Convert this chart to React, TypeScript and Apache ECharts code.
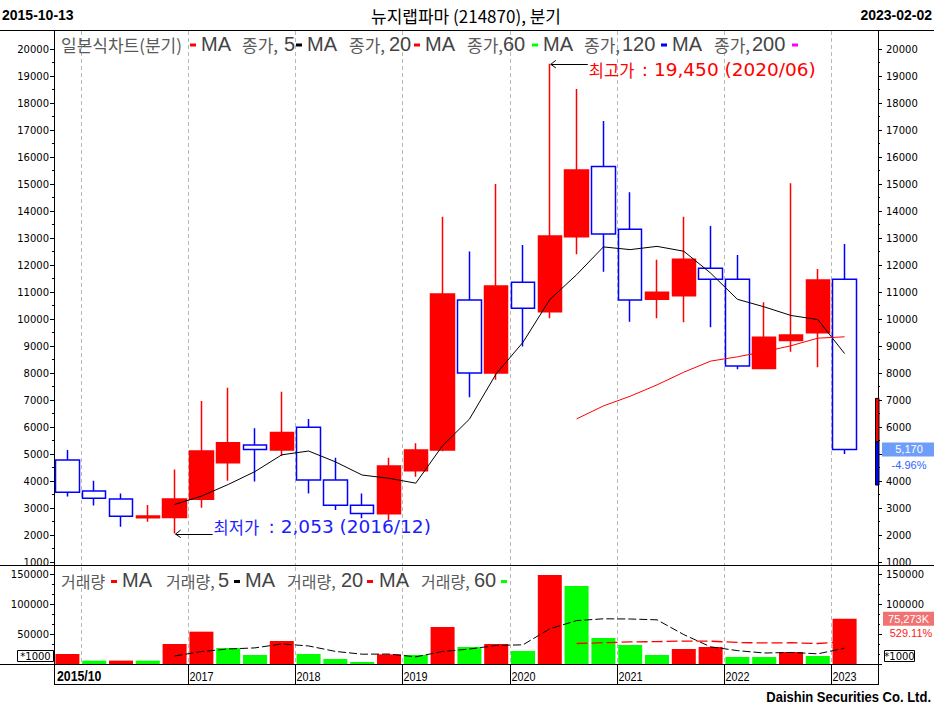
import React, { useEffect, useRef } from "react";
import * as echarts from "echarts";

// ---------- data ----------
const categories = [
  "2015/12", "2016/03", "2016/06", "2016/09", "2016/12",
  "2017/03", "2017/06", "2017/09", "2017/12",
  "2018/03", "2018/06", "2018/09", "2018/12",
  "2019/03", "2019/06", "2019/09", "2019/12",
  "2020/03", "2020/06", "2020/09", "2020/12",
  "2021/03", "2021/06", "2021/09", "2021/12",
  "2022/03", "2022/06", "2022/09", "2022/12",
  "2023/03",
];

const opens = [4780, 3630, 3330, 2640, 2650, 3320, 4680, 5330, 5150, 5990, 4040, 3100, 2790, 4380, 5150, 10700, 8000, 11360, 10270, 13050, 15650, 13320, 10730, 10860, 11880, 11470, 8170, 9200, 9490, 11470];
const closes = [3580, 3360, 2690, 2700, 3330, 5110, 5420, 5170, 5800, 4040, 3100, 2800, 4560, 5150, 10930, 8000, 11220, 10400, 13070, 15520, 13150, 10700, 10990, 12210, 11470, 8260, 9320, 9410, 11440, 5170];
const lows = [3430, 3090, 2310, 2490, 2053, 3010, 4010, 3980, 4930, 3540, 2930, 2620, 2500, 4160, 5100, 7100, 7750, 8980, 10030, 12400, 11750, 9900, 10030, 9880, 9690, 8140, 8150, 8790, 8210, 5000];
const highs = [5150, 4010, 3540, 3110, 4430, 6960, 7450, 5950, 7310, 6300, 4860, 3540, 4860, 5400, 13790, 12500, 15000, 12740, 19450, 18520, 17330, 14690, 12190, 13790, 13440, 12370, 10620, 15030, 11850, 12780];

const priceMa5 = [null, null, null, null, 3130, 3440, 3870, 4350, 4970, 5110, 4710, 4220, 4100, 3920, 5310, 6290, 7970, 9140, 10720, 11640, 12670, 12570, 12690, 12510, 11700, 10730, 10450, 10130, 9980, 8720];
const priceMa20 = [null, null, null, null, null, null, null, null, null, null, null, null, null, null, null, null, null, null, null, 6300, 6780, 7140, 7560, 8030, 8440, 8600, 8790, 9010, 9290, 9340];

const volumes = [16700, 5600, 5650, 5550, 33300, 53900, 26700, 15000, 38300, 16700, 8300, 3300, 16100, 15000, 61700, 28300, 33300, 21700, 148300, 130000, 43300, 31700, 15000, 25000, 28300, 11700, 11600, 20000, 13300, 75273];
const volMa5 = [null, null, null, null, 13330, 20770, 24990, 26860, 33430, 30090, 20990, 16330, 16570, 11890, 20890, 24890, 30890, 31990, 58670, 72330, 75330, 74990, 73650, 48970, 28650, 22310, 18290, 19290, 16970, 26350];
const volMa20 = [null, null, null, null, null, null, null, null, null, null, null, null, null, null, null, null, null, null, null, 34160, 35500, 36800, 37270, 38240, 37990, 35880, 35130, 35380, 34130, 37000];

const yearLabels = ["2017", "2018", "2019", "2020", "2021", "2022", "2023"];
const firstPeriodLabel = "2015/10";
const startDate = "2015-10-13";
const endDate = "2023-02-02";
const titleText = "뉴지랩파마 (214870), 분기";
const lastChangePct = "-4.96%";
const volChangePct = "529.11%";
const rangeTop = 7060;
const rangeMid = 5450;
const rangeBottom = 3850;

// ---------- styling ----------
const NUM_FONT = "'DejaVu Sans', Verdana, sans-serif";
const LAT_FONT = "'Liberation Sans', Arial, sans-serif";
const KO_FONT = "'Noto Sans CJK KR', 'Noto Sans', sans-serif";

const fmt = (n: number) => n.toLocaleString("en-US");

function txt(text: string, x: number, y: number, o: any = {}) {
  const align = o.align || "left";
  return {
    type: "text",
    x,
    y,
    scaleX: o.sx || 1,
    z: o.z ?? 30,
    silent: true,
    style: {
      text,
      fill: o.color || "#000",
      fontSize: o.size || 12,
      fontFamily: o.family || LAT_FONT,
      fontWeight: o.weight || "normal",
      align,
      textAlign: align,
      verticalAlign: "middle",
      textVerticalAlign: "middle",
    },
  };
}
function ln(x1: number, y1: number, x2: number, y2: number, stroke = "#000", dash?: number[], z = 25, w = 1) {
  return {
    type: "line",
    z,
    silent: true,
    shape: { x1, y1, x2, y2 },
    style: { stroke, lineWidth: w, lineDash: dash },
  };
}
function rc(x: number, y: number, width: number, height: number, fill: string, stroke?: string, z = 28) {
  return {
    type: "rect",
    z,
    silent: true,
    shape: { x, y, width, height },
    style: { fill, stroke: stroke || null, lineWidth: stroke ? 1 : 0 },
  };
}

const axisCommon = {
  axisLine: { show: false },
  splitLine: { show: false },
  axisTick: { show: true, length: 4, lineStyle: { color: "#000", width: 1 } },
};

function buildOption() {
  const last = categories.length - 1;
  const candleData = categories.map((_, i) => [opens[i], closes[i], lows[i], highs[i]]);
  const volData = volumes.map((v, i) => ({
    value: v,
    itemStyle: { color: i === 0 || v > volumes[i - 1] ? "#ff0000" : "#00ff00" },
  }));
  const xCommon = {
    type: "category",
    data: categories,
    boundaryGap: true,
    axisLine: { show: false },
    axisTick: { show: false },
    axisLabel: { show: false },
    splitLine: { show: false },
  };
  const labelStyle = { color: "#000", fontSize: 10, fontFamily: NUM_FONT };
  const priceFmt = (v: number) => String(v);
  // right-side labels that sit under the current-price / current-volume boxes are not shown
  const priceFmtRight = (v: number) => (Math.abs(v - closes[last]) < 600 ? "" : String(v));
  const volFmt = (v: number) => (v === 0 ? "" : String(v));
  const volFmtRight = (v: number) =>
    v === 0 || (v < volumes[last] && volumes[last] - v < 30000) ? "" : String(v);
  const minorP = { show: true, splitNumber: 2, length: 2, lineStyle: { color: "#000" } };
  const minorV = { show: true, splitNumber: 3, length: 2, lineStyle: { color: "#000" } };
  return {
    animation: false,
    backgroundColor: "#ffffff",
    grid: [
      { left: 54, right: 76, top: 49, height: 513, outerBoundsMode: "none" },
      { left: 54, right: 76, top: 574, height: 90, outerBoundsMode: "none" },
    ],
    xAxis: [
      { ...xCommon, gridIndex: 0 },
      { ...xCommon, gridIndex: 1 },
    ],
    yAxis: [
      {
        ...axisCommon, gridIndex: 0, position: "left", min: 1000, max: 20000, interval: 1000,
        minorTick: minorP, axisLabel: { ...labelStyle, margin: 5, formatter: priceFmt },
      },
      {
        ...axisCommon, gridIndex: 0, position: "right", offset: 20, min: 1000, max: 20000, interval: 1000,
        minorTick: minorP, axisLabel: { ...labelStyle, margin: 8, formatter: priceFmtRight },
      },
      {
        ...axisCommon, gridIndex: 1, position: "left", min: 0, max: 150000, interval: 50000,
        minorTick: minorV, axisLabel: { ...labelStyle, margin: 5, formatter: volFmt },
      },
      {
        ...axisCommon, gridIndex: 1, position: "right", offset: 20, min: 0, max: 150000, interval: 50000,
        minorTick: minorV, axisLabel: { ...labelStyle, margin: 8, formatter: volFmtRight },
      },
    ],
    series: [
      {
        name: "MA5", type: "line", xAxisIndex: 0, yAxisIndex: 0, data: priceMa5,
        symbol: "none", silent: true, lineStyle: { color: "#000000", width: 1 },
      },
      {
        name: "MA20", type: "line", xAxisIndex: 0, yAxisIndex: 0, data: priceMa20,
        symbol: "none", silent: true, lineStyle: { color: "#ff0000", width: 1 },
      },
      {
        name: "candle", type: "candlestick", xAxisIndex: 0, yAxisIndex: 0, data: candleData,
        barWidth: 24, silent: true,
        itemStyle: {
          color: "#ff0000", color0: "rgba(255,255,255,0)",
          borderColor: "#ff0000", borderColor0: "#0000ff", borderWidth: 1.5,
        },
      },
      {
        name: "volume", type: "bar", xAxisIndex: 1, yAxisIndex: 2, data: volData,
        barWidth: 24, silent: true,
      },
      {
        name: "volMA5", type: "line", xAxisIndex: 1, yAxisIndex: 2, data: volMa5,
        symbol: "none", silent: true, lineStyle: { color: "#000000", width: 1, type: [8, 3] },
      },
      {
        name: "volMA20", type: "line", xAxisIndex: 1, yAxisIndex: 2, data: volMa20,
        symbol: "none", silent: true, lineStyle: { color: "#ff0000", width: 1.3, type: [11, 4] },
      },
    ],
  };
}

function buildGraphics(chart: any) {
  const pp = (i: number, v: number) => chart.convertToPixel({ xAxisIndex: 0, yAxisIndex: 0 }, [i, v]) as number[];
  const pv = (i: number, v: number) => chart.convertToPixel({ xAxisIndex: 1, yAxisIndex: 2 }, [i, v]) as number[];
  const g: any[] = [];

  // frame
  g.push(ln(0, 30.5, 934, 30.5));
  g.push(ln(0, 565.5, 934, 565.5));
  g.push(ln(0, 664.5, 878.5, 664.5));
  g.push(ln(54.5, 684.5, 878.5, 684.5));
  g.push(ln(54.5, 31, 54.5, 685));
  g.push(ln(878.5, 31, 878.5, 685));

  // year boundaries
  const boundary = (i: number) => Math.round((pp(i - 1, 1000)[0] + pp(i, 1000)[0]) / 2) + 0.5;
  categories.forEach((c, i) => {
    if (i > 0 && c.endsWith("/03")) {
      const xb = boundary(i);
      g.push(ln(xb, 31, xb, 565, "#b8b8b8", [4, 3], 0));
      g.push(ln(xb, 567, xb, 664, "#b8b8b8", [4, 3], 0));
    }
  });
  // x labels row
  g.push(txt(firstPeriodLabel, 57, 676.5, { size: 15, weight: "bold", sx: 0.82 }));
  yearLabels.forEach((y) => {
    const idx = categories.indexOf(y + "/03");
    if (idx > 0) {
      const xb = boundary(idx);
      g.push(ln(xb, 665, xb, 684));
      g.push(txt(y, xb + 1, 676.5, { size: 13.5, sx: 0.8 }));
    }
  });

  // header & footer
  g.push(txt(startDate, 2, 15, { size: 14, weight: "bold" }));
  g.push(txt(endDate, 932, 15, { size: 14, weight: "bold", align: "right" }));
  g.push(txt(titleText, 466, 15, { size: 17, family: KO_FONT, align: "center" }));
  g.push(txt("Daishin Securities Co. Ltd.", 931, 697, { size: 14, weight: "bold", align: "right", sx: 0.93 }));

  // price legend
  const KO = { size: 17, family: KO_FONT, color: "#5a5a5a" };
  const KOV = { size: 16, family: KO_FONT, color: "#5a5a5a" };
  const EN = { size: 20, family: LAT_FONT, color: "#444444" };
  const dash = (x: number, y: number, c: string) => rc(x, y - 1.5, 6, 3, c, undefined, 30);
  const ly = 44;
  g.push(txt("일본식차트(분기)", 61, ly, KO));
  const mainItems: [number, number, string, number, string, string][] = [
    [190, 201, "종가,", 242, "5", "#000000"],
    [296, 307, "종가,", 349, "20", "#ff0000"],
    [414, 425, "종가,", 467, "60", "#00ff00"],
    [532, 543, "종가,", 584, "120", "#0000ff"],
    [661, 672, "종가,", 714, "200", "#ff00ff"],
  ];
  const mainDigitX = [284, 389, 503, 622, 752];
  mainItems.forEach((m, k) => {
    const prevColor = k === 0 ? "#ff0000" : mainItems[k - 1][5];
    g.push(dash(m[0], ly + 1, prevColor));
    g.push(txt("MA", m[1], ly - 0.5, EN));
    g.push(txt(m[2], m[3], ly, KO));
    g.push(txt(m[4], mainDigitX[k], ly - 0.5, EN));
  });
  g.push(dash(792, ly + 1, mainItems[4][5]));

  // volume legend
  const vy = 580.5;
  g.push(txt("거래량", 61, vy, KOV));
  g.push(dash(111, vy + 1, "#ff0000"));
  const volItems: [number, string, number, number, string][] = [
    [122, "거래량,", 166, 218, "5"],
    [245, "거래량,", 287, 341, "20"],
    [379, "거래량,", 421, 474, "60"],
  ];
  const volDash = [[234, "#000000"], [367, "#ff0000"], [501, "#00ff00"]] as [number, string][];
  volItems.forEach((m, k) => {
    g.push(txt("MA", m[0], vy - 0.5, EN));
    g.push(txt(m[1], m[2], vy, KOV));
    g.push(txt(m[4], m[3], vy - 0.5, EN));
    g.push(dash(volDash[k][0], vy + 1, volDash[k][1]));
  });

  // highest / lowest annotations
  let hi = 0;
  highs.forEach((h, i) => { if (h > highs[hi]) hi = i; });
  let lo = 0;
  lows.forEach((l, i) => { if (l < lows[lo]) lo = i; });
  const ph = pp(hi, highs[hi]);
  const pl = pp(lo, lows[lo]);
  const arrow = (x: number, y: number) => [
    ln(x + 1, Math.round(y) + 0.5, x + 38, Math.round(y) + 0.5, "#000", undefined, 40),
    {
      type: "polyline", z: 40, silent: true,
      shape: { points: [[x + 6, y - 3.5], [x + 1, y + 0.5], [x + 6, y + 4]] },
      style: { stroke: "#000", lineWidth: 1, fill: null },
    },
  ];
  g.push(...arrow(ph[0], ph[1]));
  g.push(txt("최고가", ph[0] + 39, ph[1] + 6, { size: 16.5, family: KO_FONT, color: "#ff0000", z: 40 }));
  g.push(txt(": " + fmt(highs[hi]) + " (" + categories[hi] + ")", ph[0] + 92, ph[1] + 6, { size: 18.5, family: NUM_FONT, color: "#ff0000", z: 40 }));
  g.push(...arrow(pl[0], pl[1]));
  g.push(txt("최저가", pl[0] + 39, pl[1] - 7, { size: 16.5, family: KO_FONT, color: "#1c1cff", z: 40 }));
  g.push(txt(": " + fmt(lows[lo]) + " (" + categories[lo] + ")", pl[0] + 94, pl[1] - 7, { size: 18.5, family: NUM_FONT, color: "#1c1cff", z: 40 }));

  // right-side price marker and current price
  const last = categories.length - 1;
  const yTop = pp(last, rangeTop)[1];
  const yMid = pp(last, rangeMid)[1];
  const yBot = pp(last, rangeBottom)[1];
  g.push(rc(875.5, yTop, 3.5, yMid - yTop, "#ff0000", "#000", 35));
  g.push(rc(875.5, yMid, 3.5, yBot - yMid, "#0000ff", "#000", 35));
  const yc = pp(last, closes[last])[1];
  g.push(rc(882, yc - 7, 52, 14, "#6f9ef8", undefined, 35));
  g.push(txt(fmt(closes[last]), 909, yc, { size: 11, family: LAT_FONT, color: "#ffffff", align: "center", z: 40 }));
  g.push(txt(lastChangePct, 909, yc + 16, { size: 11, family: LAT_FONT, color: "#2f62ff", align: "center", z: 40 }));

  // volume right labels
  const yv = pv(last, volumes[last])[1];
  g.push(rc(883, yv - 7, 51, 14, "#f07272", undefined, 35));
  g.push(txt(fmt(volumes[last]) + "K", 908.5, yv, { size: 11, family: LAT_FONT, color: "#ffffff", align: "center", z: 40 }));
  g.push(txt(volChangePct, 911, yv + 14.5, { size: 11, family: LAT_FONT, color: "#ff2020", align: "center", z: 40 }));

  // *1000 boxes
  g.push(rc(17.5, 650.5, 36, 11, "#ffffff", "#000", 35));
  g.push(txt("*1000", 35.5, 656.5, { size: 10, family: NUM_FONT, align: "center", z: 40 }));
  g.push(rc(884.5, 650.5, 30, 11, "#ffffff", "#000", 35));
  g.push(txt("*1000", 899.5, 656.5, { size: 10, family: NUM_FONT, align: "center", z: 40 }));

  return g;
}

export default function App() {
  const ref = useRef<HTMLDivElement>(null);
  useEffect(() => {
    const el = ref.current;
    if (!el) return;
    const chart = echarts.init(el, null, { renderer: "svg" });
    chart.setOption(buildOption() as any);
    chart.setOption({ graphic: buildGraphics(chart) } as any);
    return () => chart.dispose();
  }, []);
  return (
    <div
      ref={ref}
      style={{ position: "absolute", left: 0, top: 0, width: 934, height: 709, background: "#fff" }}
    />
  );
}
